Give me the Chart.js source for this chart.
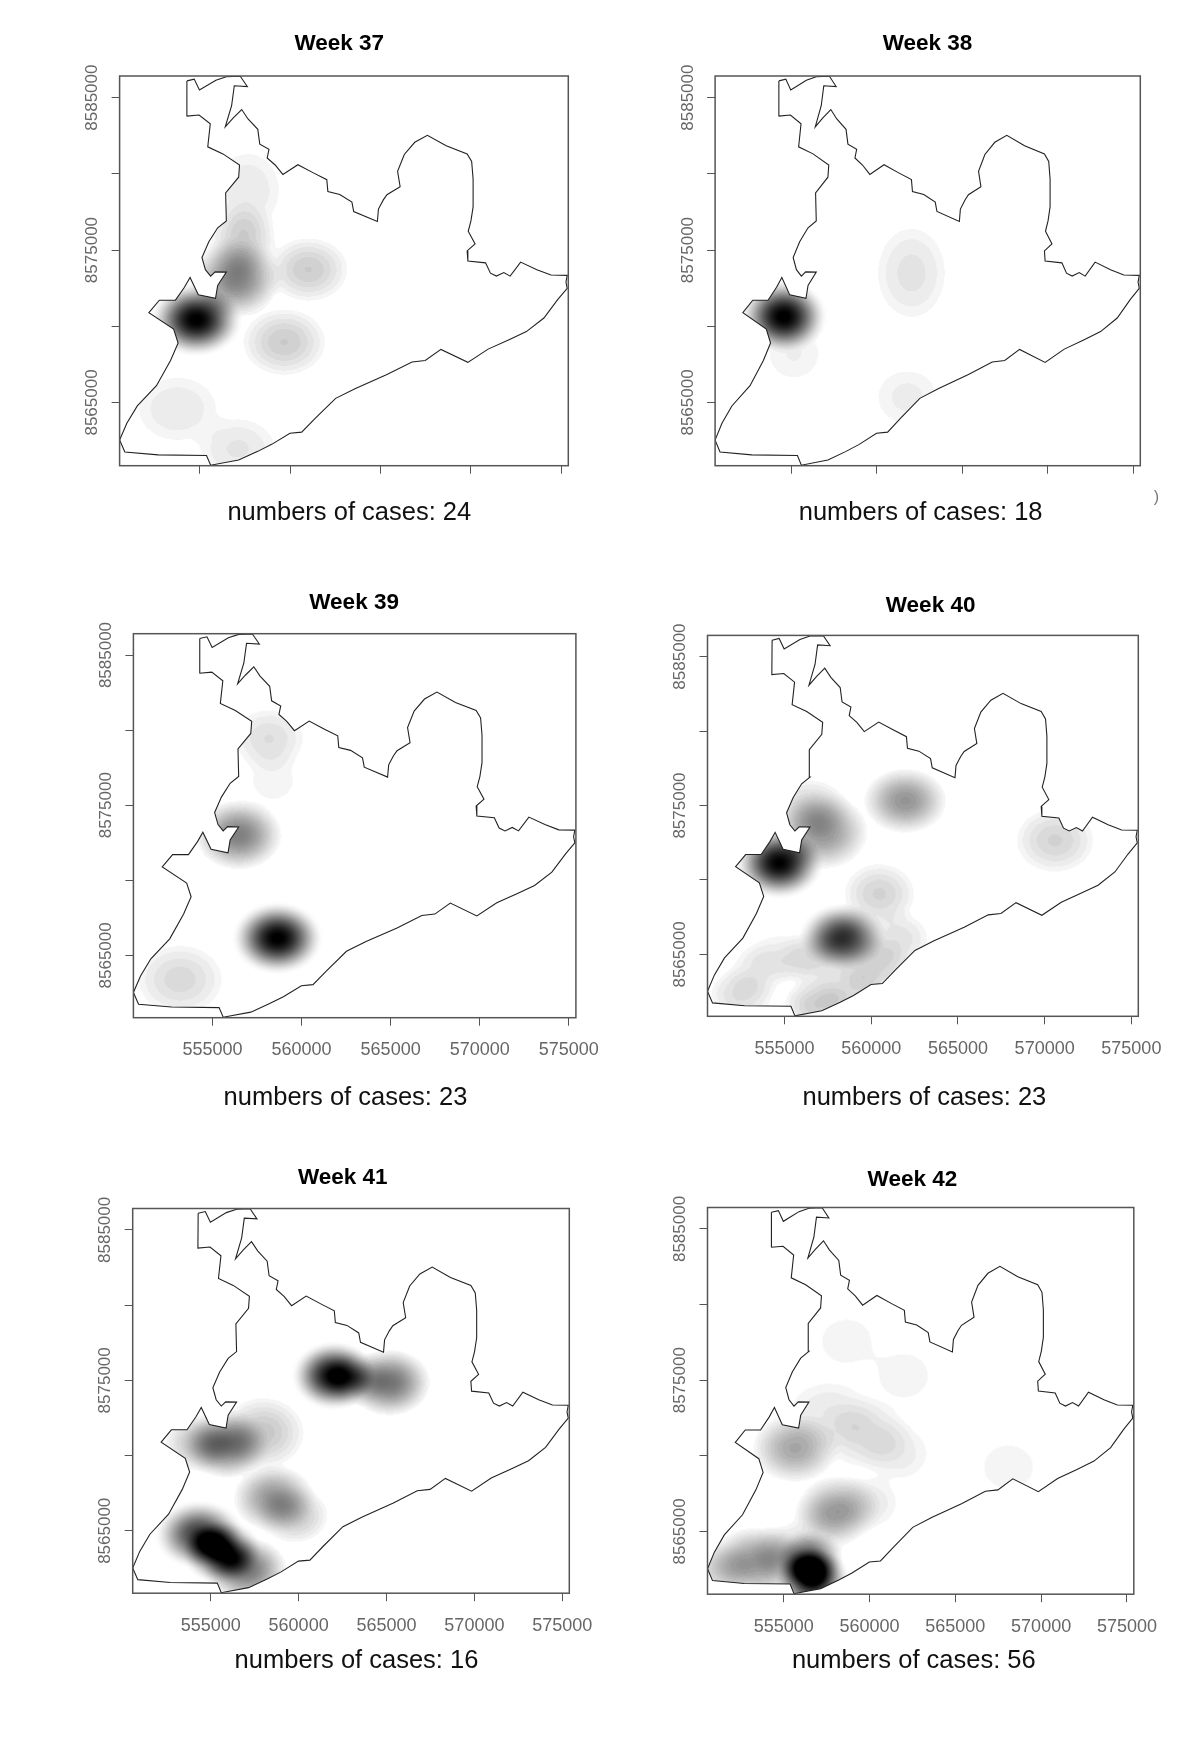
<!DOCTYPE html>
<html>
<head>
<meta charset="utf-8">
<title>Weekly case density maps</title>
<style>
html,body{margin:0;padding:0;background:#fff;width:1200px;height:1737px;overflow:hidden}
canvas{position:absolute;display:block}
</style>
<script src="https://cdn.jsdelivr.net/npm/chart.js@4"></script>
</head>
<body>
<script>
// ---- values ----
const outlineX = [554285,554690,554980,555890,556470,557240,557630,556910,556760,556410,556855,557320,557670,558210,558320,558830,558730,559170,559600,560430,561260,562030,562090,562750,563420,563520,564830,564890,565160,565360,566090,565950,566320,566900,567600,568640,569800,570050,570130,570130,570010,569860,570240,569800,569840,570820,571090,571420,571830,572180,572760,573660,574440,575340,575270,575340,574820,574050,573080,572120,570960,569840,568350,567480,566750,565360,563620,562520,561400,560640,559990,558980,558210,557150,555600,555370,552700,550850,550560,550960,551540,552600,553380,553800,553550,552180,552760,553650,554150,554460,554920,555870,555990,556470,555850,555600,555310,555120,555500,555990,556470,556430,557150,557200,556280,555440,555580,554960,554270,554285];
const outlineY = [8586100,8586215,8585505,8586146,8586375,8586400,8585730,8585780,8584470,8583080,8583670,8584220,8583600,8582920,8581950,8581610,8581040,8580580,8579960,8580600,8580080,8579620,8578840,8578650,8578150,8577530,8576870,8577690,8578290,8578630,8579160,8580170,8581270,8582070,8582530,8581840,8581310,8580810,8579660,8577830,8576910,8576230,8575400,8574940,8574280,8574160,8573480,8573290,8573520,8573290,8574210,8573710,8573360,8573340,8572900,8572490,8571760,8570540,8569650,8569120,8568500,8567630,8568480,8567750,8567660,8566830,8565920,8565270,8563970,8563050,8562980,8562250,8561790,8561220,8560880,8561520,8561560,8561750,8562530,8563630,8564770,8566100,8567750,8568900,8569810,8570890,8571710,8571710,8572560,8573200,8572060,8571830,8572680,8573550,8573570,8573290,8573710,8574510,8575540,8576460,8576910,8578750,8579780,8580580,8581310,8581770,8583280,8583860,8583790,8586100];
const xTickValues = [555000,560000,565000,570000,575000];
const yTickValues = [8565000,8570000,8575000,8580000,8585000];
const yLabelledTicks = [8565000,8575000,8585000];
const weeks = [37,38,39,40,41,42];
const caseCounts = [24,18,23,23,16,56];
// [easting, northing, peak darkness, spread east, spread north]
const week37Spots = [[554810,8570430,1.02,1000,950],[557000,8573125,.5,1050,1100],[557385,8575640,.2,850,1100],[557670,8578930,.09,1000,1400],[561010,8573720,.2,1050,1000],[559675,8568960,.2,1100,1050],[553760,8564580,.09,1250,1200],[557100,8561960,.1,1150,1100]];
const week38Spots = [[554560,8570650,1.02,1000,950],[555160,8568200,.06,1000,1100],[562030,8573500,.11,1080,1600],[561790,8565350,.07,1100,1100]];
const week39Spots = [[558650,8566150,1.02,1000,950],[556470,8573020,.5,1050,1000],[558170,8579430,.13,1000,1000],[558400,8576680,.05,900,1000],[553180,8563400,.15,1200,1150]];
const week40Spots = [[554700,8571150,1.0,1000,950],[557190,8573240,.42,1150,1100],[556490,8574860,.18,1000,900],[561960,8575320,.42,1050,950],[570600,8572660,.17,1100,1050],[558380,8566160,.82,1000,900],[560470,8569060,.17,1000,1000],[561560,8566040,.12,900,900],[560170,8564190,.18,1000,900],[552510,8562330,.14,900,800],[554700,8564900,.08,1000,800],[556890,8561640,.2,900,800],[556790,8564650,.14,1000,900],[558780,8562560,.14,900,800],[553500,8563900,.08,900,800]];
const week41Spots = [[562020,8575310,1.0,950,900],[563300,8575100,.2,800,800],[565170,8574850,.55,1000,950],[555920,8570720,.55,1000,950],[554250,8570830,.25,850,850],[557990,8571520,.22,1100,1100],[558580,8567160,.42,1000,950],[559760,8566010,.22,900,850],[554350,8564750,.78,1000,900],[555630,8563600,.85,900,850],[557010,8562450,.55,1000,900]];
const week42Spots = [[556670,8561860,1.0,850,850],[556560,8563110,.6,800,800],[555260,8563560,.17,900,900],[553460,8563000,.42,1200,1000],[551250,8562430,.18,900,800],[558170,8566530,.32,1050,950],[557500,8565500,.13,1000,900],[555660,8570510,.35,1100,1000],[559770,8571420,.14,1200,1100],[557670,8572900,.09,1300,1100],[561680,8570170,.08,1000,1000],[560000,8566900,.09,900,900],[558670,8577570,.05,1150,1150],[561980,8575300,.05,1150,1150],[568100,8569260,.05,1150,1150]];
const allSpots = [week37Spots,week38Spots,week39Spots,week40Spots,week41Spots,week42Spots];
const xRange = [550560,575400];
const yRange = [8560850,8586420];

// ---- page layout (px) ----
const plotBoxes = [[119.6,76,568.3,465.7],[715.1,76,1140.3,465.7],[133.4,633.7,575.9,1017.7],[707.5,635.4,1138.3,1016.3],[132.7,1208.5,569.3,1593.2],[707.5,1207.5,1133.8,1594.2]];
const titleSpots = [[339.3,43.7],[927.5,43.7],[354.1,602.7],[930.6,605.4],[342.7,1177.9],[912.4,1179.6]];
const noteSpots = [[349.3,512.7],[920.6,512.7],[345.5,1097.9],[924.4,1097.9],[356.5,1660.6],[913.8,1660.6]];
const showXLabels = [false,false,true,true,true,true];
const FONT = '"Liberation Sans", Arial, sans-serif';
const INK = '#555';

const densityPlugin = {
  id:'density',
  beforeDatasetsDraw(chart){
    const {ctx, chartArea:a, scales:{x,y}} = chart;
    const spots = chart.data.datasets[1].data;
    const W = Math.ceil(a.right-a.left), H = Math.ceil(a.bottom-a.top);
    const off = document.createElement('canvas'); off.width=W; off.height=H;
    const oc = off.getContext('2d'), img = oc.createImageData(W,H), d = img.data;
    for(let j=0;j<H;j++){
      const ny = y.getValueForPixel(a.top+j+.5);
      for(let i=0;i<W;i++){
        const ex = x.getValueForPixel(a.left+i+.5);
        let v=0, top=0, topPeak=0;
        for(const s of spots){
          const dx=(ex-s.x)/s.sx, dy=(ny-s.y)/s.sy, q=(dx*dx+dy*dy)/6.76;
          if(q<1){ const t=s.peak*(1-q)*(1-q); v+=t; if(t>top){top=t;topPeak=s.peak;} }
        }
        let g=255*(1-Math.min(v,1));
        if(v<.03) g=topPeak>=.7?255-v*255:255;
        else if(topPeak<.7&&g>150) g=245-Math.round((245-g)/9)*9;
        const k=(j*W+i)*4;
        d[k]=d[k+1]=d[k+2]=g; d[k+3]=255;
      }
    }
    oc.putImageData(img,0,0);
    ctx.save();
    ctx.beginPath();
    outlineX.forEach((vx,n)=>{
      const px=x.getPixelForValue(vx), py=y.getPixelForValue(outlineY[n]);
      n?ctx.lineTo(px,py):ctx.moveTo(px,py);
    });
    ctx.closePath();
    ctx.clip();
    ctx.drawImage(off,a.left,a.top);
    ctx.restore();
  },
  afterDraw(chart){
    const {ctx, chartArea:a} = chart, c = chart.options.plugins.density;
    ctx.save();
    ctx.strokeStyle=INK; ctx.lineWidth=1.5;
    ctx.strokeRect(a.left,a.top,a.right-a.left,a.bottom-a.top);
    ctx.textAlign='center'; ctx.textBaseline='middle';
    ctx.fillStyle='#000'; ctx.font='bold 22.5px '+FONT;
    ctx.fillText(c.title,c.titleAt[0],c.titleAt[1]);
    ctx.fillStyle='#111'; ctx.font='25.5px '+FONT;
    ctx.fillText(c.note,c.noteAt[0],c.noteAt[1]);
    if(c.stray){
      ctx.fillStyle='#777'; ctx.font='16px '+FONT;
      ctx.fillText(c.stray[0],c.stray[1],c.stray[2]);
    }
    ctx.restore();
  }
};

weeks.forEach((week,idx)=>{
  const [pl,pt,pr,pb] = plotBoxes[idx];
  const yW=60, xH=100, topGap=50, rightGap=40;
  const cl=Math.floor(pl-yW), ct=Math.floor(pt-topGap);
  const W=Math.ceil(pr+rightGap)-cl, H=Math.ceil(pb+xH)-ct;
  const cv=document.createElement('canvas');
  cv.width=W; cv.height=H;
  cv.style.left=cl+'px'; cv.style.top=ct+'px';
  cv.style.width=W+'px'; cv.style.height=H+'px';
  document.body.appendChild(cv);
  const [tx,ty]=titleSpots[idx], [nx,ny]=noteSpots[idx];
  new Chart(cv,{
    type:'scatter',
    data:{datasets:[
      {label:'Region outline',
       data:outlineX.map((vx,n)=>({x:vx,y:outlineY[n]})),
       showLine:true,tension:0,borderColor:'#222',borderWidth:1.1,pointRadius:0,fill:false},
      {label:'Case density',
       data:allSpots[idx].map(s=>({x:s[0],y:s[1],peak:s[2],sx:s[3],sy:s[4]})),
       showLine:false,pointRadius:0}
    ]},
    options:{
      responsive:false,animation:false,devicePixelRatio:1,
      layout:{padding:{left:pl-cl-yW,top:pt-ct,right:cl+W-pr,bottom:ct+H-pb-xH}},
      plugins:{
        legend:{display:false},tooltip:{enabled:false},
        density:{
          title:'Week '+week,titleAt:[tx-cl,ty-ct],
          note:'numbers of cases: '+caseCounts[idx],noteAt:[nx-cl,ny-ct],
          stray:idx===1?[')',1156.5-cl,497.3-ct]:null
        }
      },
      scales:{
        x:{type:'linear',bounds:'data',min:xRange[0],max:xRange[1],
          afterFit(s){s.height=xH;},
          afterBuildTicks(s){s.ticks=xTickValues.map(v=>({value:v}));},
          grid:{drawOnChartArea:false,drawTicks:true,tickLength:8,color:INK,lineWidth:1},
          border:{display:false},
          ticks:{display:showXLabels[idx],autoSkip:false,maxRotation:0,minRotation:0,padding:14,color:'#666',
            font:{family:FONT,size:18},callback:v=>String(v)}},
        y:{type:'linear',bounds:'data',min:yRange[0],max:yRange[1],
          afterFit(s){s.width=yW;},
          afterBuildTicks(s){s.ticks=yTickValues.map(v=>({value:v}));},
          grid:{drawOnChartArea:false,drawTicks:true,tickLength:8,color:INK,lineWidth:1},
          border:{display:false},
          ticks:{autoSkip:false,minRotation:90,maxRotation:90,crossAlign:'center',padding:-14,color:'#666',
            font:{family:FONT,size:17},callback:v=>yLabelledTicks.includes(v)?String(v):''}}
      }
    },
    plugins:[densityPlugin]
  });
});
</script>
</body>
</html>
